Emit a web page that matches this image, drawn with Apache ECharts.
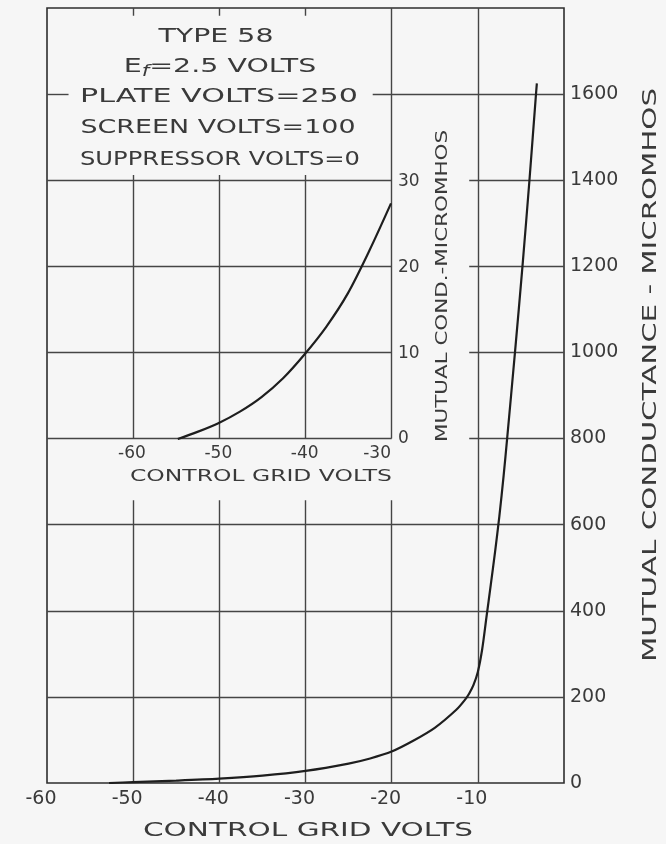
<!DOCTYPE html>
<html>
<head>
<meta charset="utf-8">
<script src="https://cdn.jsdelivr.net/npm/echarts@6/dist/echarts.min.js"></script>
<style>
  html, body { margin: 0; padding: 0; background: #f6f6f6; }
  #chart { width: 666px; height: 844px; }
</style>
</head>
<body>
<div id="chart"></div>
<script>
// Type 58 pentode: mutual conductance against control-grid bias,
// with an enlarged view of the remote-cutoff tail.

// Main curve (volts, micromhos)
const mainGridVolts   = [-52.8, -50, -45, -40, -35, -30, -25, -22.5, -20, -17.5, -15, -12.5, -11.5, -11, -10.5, -10, -9.5, -9, -8.5, -8, -7.5, -7, -6.6, -5.69, -4.82, -4.01, -3.25, -3.15];
const mainConductance = [0, 2, 5.5, 10, 17, 28, 45, 57, 73, 98, 128, 170, 193, 208, 228, 258, 310, 385, 460, 537, 620, 715, 800, 1000, 1200, 1400, 1600, 1625];

// Enlarged tail (volts, micromhos)
const insetGridVolts   = [-54.7, -52.5, -50, -47.5, -45, -42.5, -40, -37.5, -35, -32.5, -30];
const insetConductance = [0, 0.8, 1.85, 3.2, 4.9, 7.1, 9.9, 13.1, 17.0, 22.0, 27.5];

// Tick values
const mainVoltTicks         = [-60, -50, -40, -30, -20, -10];
const mainConductanceTicks  = [0, 200, 400, 600, 800, 1000, 1200, 1400, 1600];
const insetVoltTicks        = [-60, -50, -40, -30];
const insetConductanceTicks = [0, 10, 20, 30];

// Operating conditions
const ratingLines = ['TYPE 58', 'E|f|=2.5 VOLTS', 'PLATE VOLTS=250', 'SCREEN VOLTS=100', 'SUPPRESSOR VOLTS=0'];

const FONT = '"DejaVu Sans", "Liberation Sans", sans-serif';
const INK = '#3a3a3a';
const LINE = '#454545';

const pairs = (xs, ys) => xs.map((x, i) => [x, ys[i]]);

// text measuring so hand-lettered widths can be reproduced by horizontal stretch
const measureCtx = document.createElement('canvas').getContext('2d');
function textWidth(str, size) {
  measureCtx.font = size + 'px ' + FONT;
  return measureCtx.measureText(str).width;
}
function lettering(str, cx, cy, size, width, vertical) {
  return {
    type: 'text',
    x: cx, y: cy,
    rotation: vertical ? Math.PI / 2 : 0,
    scaleX: width / textWidth(str, size),
    z: 100,
    silent: true,
    style: {
      text: str,
      fontSize: size,
      fontFamily: FONT,
      fill: INK,
      align: 'center',
      verticalAlign: 'middle'
    }
  };
}

// paper ruling: gridlines, interrupted where the enlarged view and its labels sit
const seg = (x1, y1, x2, y2) => [{ coord: [x1, y1] }, { coord: [x2, y2] }];
const ruling = [];
ruling.push(seg(-60, 1600, -57.5, 1600), seg(-22.2, 1600, 0, 1600));
[1400, 1200, 1000, 800].forEach(y => ruling.push(seg(-60, y, -20, y), seg(-11, y, 0, y)));
[600, 400, 200].forEach(y => ruling.push(seg(-60, y, 0, y)));
[-50, -40, -30].forEach(x => ruling.push(seg(x, 0, x, 657), seg(x, 800, x, 1412), seg(x, 1782, x, 1800)));
ruling.push(seg(-20, 0, -20, 657), seg(-20, 800, -20, 1800));
ruling.push(seg(-10, 0, -10, 1800));

const tickLabel = (size) => ({ fontSize: size, fontFamily: FONT, color: INK });

// rating block
const [r0, r1, r2, r3, r4] = ratingLines;
const efParts = r1.split('|');
const efText = {
  type: 'text',
  x: 220, y: 67,
  scaleX: 195 / textWidth(efParts[0] + efParts[1] + efParts[2], 20),
  z: 100,
  silent: true,
  style: {
    text: '{e|' + efParts[0] + '}{s|' + efParts[1] + '}{e|' + efParts[2] + '}',
    fontFamily: FONT,
    fill: INK,
    align: 'center',
    verticalAlign: 'middle',
    rich: {
      e: { fontSize: 20, fontFamily: FONT, fill: INK, lineHeight: 26, verticalAlign: 'middle' },
      s: { fontSize: 15, fontFamily: FONT, fontStyle: 'italic', fill: INK, lineHeight: 26, verticalAlign: 'bottom' }
    }
  }
};

const chart = echarts.init(document.getElementById('chart'), null, { renderer: 'canvas' });

chart.setOption({
  backgroundColor: '#f6f6f6',
  animation: false,
  grid: [
    { left: 47, right: 102, top: 8, bottom: 61, show: true, borderColor: '#2e2e2e', borderWidth: 1.6, backgroundColor: 'transparent' },
    { left: 132, right: 275, top: 182, bottom: 405 }
  ],
  xAxis: [
    {
      gridIndex: 0, type: 'value', min: -60, max: 0, interval: 10,
      axisLine: { show: false }, axisTick: { show: false }, splitLine: { show: false },
      axisLabel: Object.assign(tickLabel(19), {
        margin: 7, padding: [0, 12, 0, 0],
        formatter: v => (mainVoltTicks.includes(v) ? String(v) : '')
      })
    },
    {
      gridIndex: 1, type: 'value', min: -60, max: -30, interval: 10,
      axisLine: { show: false }, axisTick: { show: false }, splitLine: { show: false },
      axisLabel: Object.assign(tickLabel(17), {
        margin: 6, alignMaxLabel: 'right',
        formatter: v => (insetVoltTicks.includes(v) ? String(v) : '')
      })
    }
  ],
  yAxis: [
    {
      gridIndex: 0, type: 'value', position: 'right', min: 0, max: 1800, interval: 200,
      axisLine: { show: false }, axisTick: { show: false }, splitLine: { show: false },
      axisLabel: Object.assign(tickLabel(19), {
        margin: 6,
        formatter: v => (mainConductanceTicks.includes(v) ? String(v) : '')
      })
    },
    {
      gridIndex: 1, type: 'value', position: 'right', min: 0, max: 30, interval: 10,
      axisLine: { show: false }, axisTick: { show: false }, splitLine: { show: false },
      axisLabel: Object.assign(tickLabel(17), {
        margin: 7,
        formatter: v => (insetConductanceTicks.includes(v) ? String(v) : '')
      })
    }
  ],
  series: [
    {
      name: 'ruling',
      type: 'line',
      xAxisIndex: 0, yAxisIndex: 0,
      data: [],
      silent: true,
      z: 1,
      markLine: {
        silent: true,
        animation: false,
        symbol: ['none', 'none'],
        label: { show: false },
        emphasis: { disabled: true },
        lineStyle: { color: LINE, width: 1.4, type: 'solid' },
        data: ruling
      }
    },
    {
      name: 'Mutual conductance',
      type: 'line',
      xAxisIndex: 0, yAxisIndex: 0,
      data: pairs(mainGridVolts, mainConductance),
      showSymbol: false,
      smooth: 0.3,
      z: 5,
      lineStyle: { color: '#1e1e1e', width: 2.2 }
    },
    {
      name: 'Mutual conductance (tail)',
      type: 'line',
      xAxisIndex: 1, yAxisIndex: 1,
      data: pairs(insetGridVolts, insetConductance),
      showSymbol: false,
      smooth: 0.3,
      z: 5,
      lineStyle: { color: '#1e1e1e', width: 2.2 }
    }
  ],
  graphic: {
    elements: [
      lettering(r0, 216, 37, 20, 115),
      efText,
      lettering(r2, 219, 97, 20, 278),
      lettering(r3, 218, 128, 20, 275),
      lettering(r4, 220, 160, 20, 280),
      lettering('CONTROL GRID VOLTS', 261, 477, 16, 262),
      lettering('MUTUAL COND.-MICROMHOS', 443, 286, 15, 312, true),
      lettering('CONTROL GRID VOLTS', 308, 831, 20, 330),
      lettering('MUTUAL CONDUCTANCE - MICROMHOS', 651, 375, 20, 574, true)
    ]
  }
});
</script>
</body>
</html>
